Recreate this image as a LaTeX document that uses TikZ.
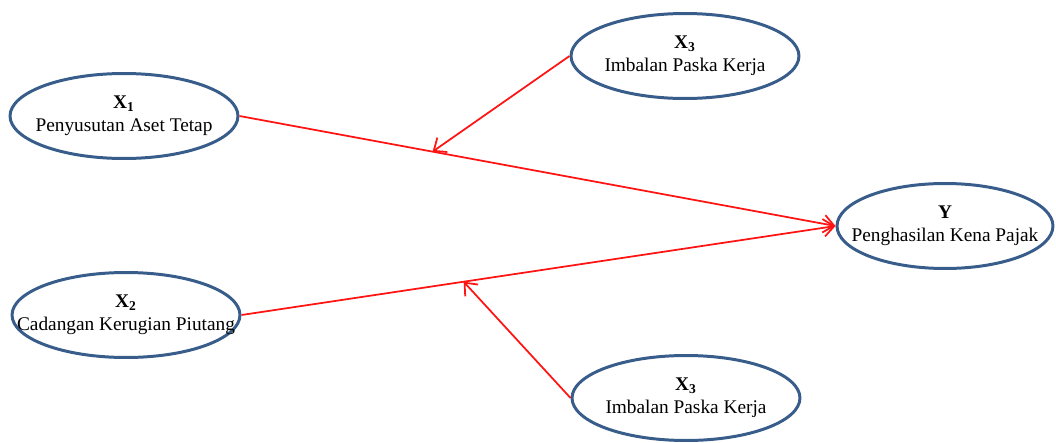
\documentclass[tikz,border=0pt]{standalone}
\usepackage{fontspec}
\setmainfont{Liberation Serif}
\usetikzlibrary{shapes.geometric,arrows.meta,calc}

\definecolor{ovalblue}{RGB}{56,93,138}
\definecolor{linkred}{RGB}{255,20,20}

\tikzset{
  varoval/.style={ellipse, draw=ovalblue, line width=1.7pt,
    minimum width=4.56cm, minimum height=1.7cm, inner sep=0pt},
  vartext/.style={align=center, font=\fontsize{11}{13}\selectfont},
  link/.style={draw=linkred, line width=1pt, -{Straight Barb[length=6pt,width=10pt,line width=1pt]}}
}

\begin{document}
\begin{tikzpicture}[x=0.02cm,y=-0.02cm]
\useasboundingbox (0,0) rectangle (1056,443);

% variabel
\node[varoval, label={[vartext]center:{\textbf{X\textsubscript{1}}\\Penyusutan Aset Tetap}}] (x1) at (124,116) {};
\node[varoval, label={[vartext]center:{\textbf{X\textsubscript{2}}\\Cadangan Kerugian Piutang}}] (x2) at (126,315) {};
\node[varoval, label={[vartext]center:{\textbf{X\textsubscript{3}}\\Imbalan Paska Kerja}}] (x3a) at (685,56) {};
\node[varoval, label={[vartext]center:{\textbf{X\textsubscript{3}}\\Imbalan Paska Kerja}}] (x3b) at (686,398) {};
\node[varoval, minimum width=4.32cm, label={[vartext]center:{\textbf{Y}\\Penghasilan Kena Pajak}}] (y) at (945,226) {};

% titik moderasi
\coordinate (m1) at ($(x1.east)!0.324!(y.west)$);
\coordinate (m2) at ($(x2.east)!0.374!(y.west)$);

% hubungan
\draw[link] (x1.east) -- (y.west);
\draw[link] (x2.east) -- (y.west);
\draw[link] (x3a.west) -- (m1);
\draw[link] (x3b.west) -- (m2);
\end{tikzpicture}
\end{document}
